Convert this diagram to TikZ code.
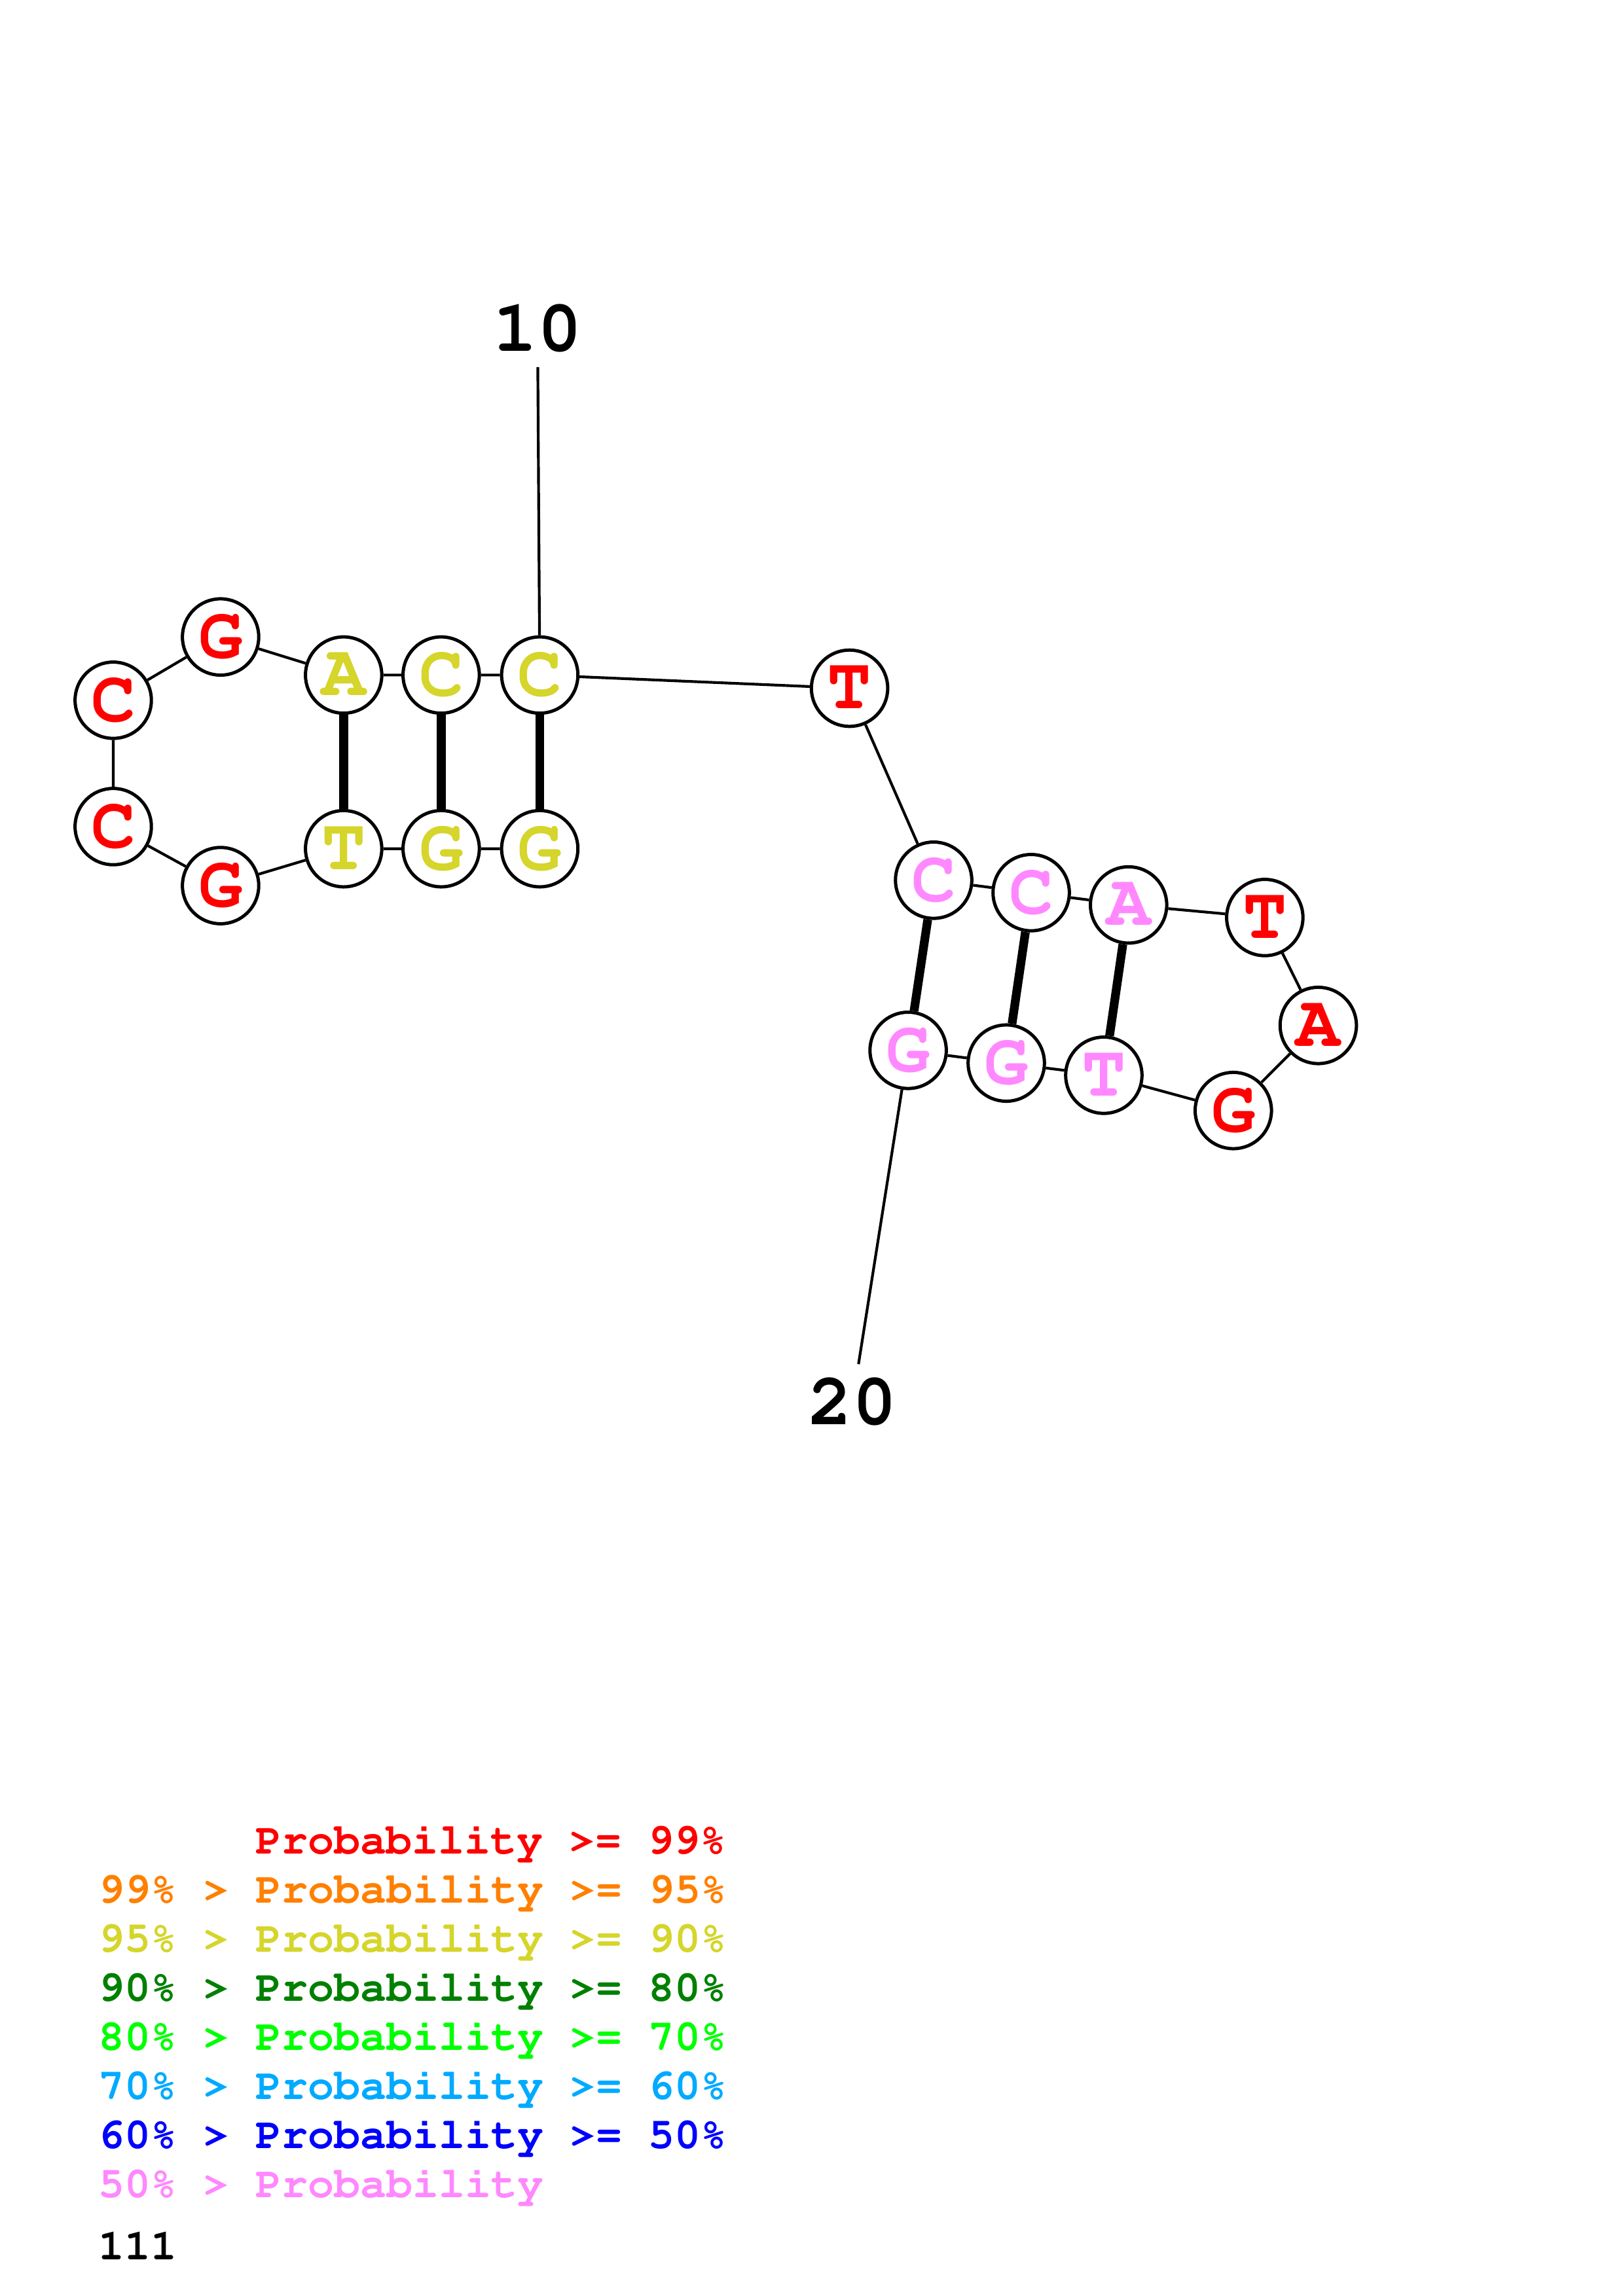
\documentclass[tikz,border=0pt]{standalone}
\usepackage[T1]{fontenc}
\usepackage{courier}
\renewcommand{\familydefault}{\ttdefault}
\definecolor{pred}{RGB}{255,0,0}
\definecolor{porange}{RGB}{255,128,0}
\definecolor{pyellow}{RGB}{213,213,43}
\definecolor{pdkgreen}{RGB}{0,128,0}
\definecolor{pgreen}{RGB}{0,255,0}
\definecolor{pltblue}{RGB}{0,170,255}
\definecolor{pblue}{RGB}{0,0,255}
\definecolor{ppink}{RGB}{255,136,255}

\begin{document}
\begin{tikzpicture}[x=0.53726pt,y=-0.53726pt,
  nuc/.style={circle,draw,fill=white,line width=1.2pt,minimum size=28pt,
    inner sep=0pt,text=#1,font=\fontsize{27}{27}\selectfont\bfseries},
  bb/.style={line width=1pt},
  bp/.style={line width=3.2pt},
  numlab/.style={anchor=base,inner sep=5pt,font=\fontsize{27}{27}\selectfont\bfseries},
  legend/.style={anchor=base west,inner sep=0pt,text=#1,
    font=\fontsize{16}{16}\selectfont\bfseries}]
  \useasboundingbox (0,0) rectangle (1108,1568);

  % left hairpin
  \node[nuc=pyellow] (n1) at (368.5,579.6) {G};
  \node[nuc=pyellow] (n2) at (301.2,579.6) {G};
  \node[nuc=pyellow] (n3) at (234.6,579.6) {T};
  \node[nuc=pred] (n4) at (150.6,604.8) {G};
  \node[nuc=pred] (n5) at (77.3,564.5) {C};
  \node[nuc=pred] (n6) at (77.3,478.2) {C};
  \node[nuc=pred] (n7) at (150.6,435) {G};
  \node[nuc=pyellow] (n8) at (234.6,461) {A};
  \node[nuc=pyellow] (n9) at (301.2,461) {C};
  \node[nuc=pyellow] (n10) at (368.5,461) {C};
  \node[nuc=pred] (n11) at (580,470) {T};

  % right hairpin
  \node[nuc=ppink] (n12) at (637.4,601.1) {C};
  \node[nuc=ppink] (n13) at (704,609.6) {C};
  \node[nuc=ppink] (n14) at (770.5,618) {A};
  \node[nuc=pred] (n15) at (863.5,626.6) {T};
  \node[nuc=pred] (n16) at (900,700.3) {A};
  \node[nuc=pred] (n17) at (842,758.4) {G};
  \node[nuc=ppink] (n18) at (753.6,734.3) {T};
  \node[nuc=ppink] (n19) at (687,726) {G};
  \node[nuc=ppink] (n20) at (620,717.3) {G};

  \node[numlab] (l10) at (367,240) {10};
  \node[numlab] (l20) at (582,973) {20};

  \draw[bb] (n1) -- (n2) -- (n3) -- (n4) -- (n5) -- (n6) -- (n7) -- (n8)
  -- (n9) -- (n10) -- (n11) -- (n12) -- (n13) -- (n14) -- (n15) -- (n16)
  -- (n17) -- (n18) -- (n19) -- (n20);
  \draw[bb] (n10) -- (l10); \draw[bb] (n20) -- (l20);

  \draw[bp] (n1) -- (n10); \draw[bp] (n2) -- (n9); \draw[bp] (n3) -- (n8);
  \draw[bp] (n12) -- (n20); \draw[bp] (n13) -- (n19); \draw[bp] (n14) -- (n18);

  % legend
  \node[legend=pred] (p99) at (174,1266) {Probability >= 99\%};
  \node[legend=porange] (p95) at (67,1299.5) {99\% > Probability >= 95\%};
  \node[legend=pyellow] (p90) at (67,1333) {95\% > Probability >= 90\%};
  \node[legend=pdkgreen] (p80) at (67,1366.5) {90\% > Probability >= 80\%};
  \node[legend=pgreen] (p70) at (67,1400) {80\% > Probability >= 70\%};
  \node[legend=pltblue] (p60) at (67,1433.5) {70\% > Probability >= 60\%};
  \node[legend=pblue] (p50) at (67,1467) {60\% > Probability >= 50\%};
  \node[legend=ppink] (p00) at (67,1500.5) {50\% > Probability};
  \node[legend=black] (cnt) at (67,1543) {111};
\end{tikzpicture}
\end{document}
